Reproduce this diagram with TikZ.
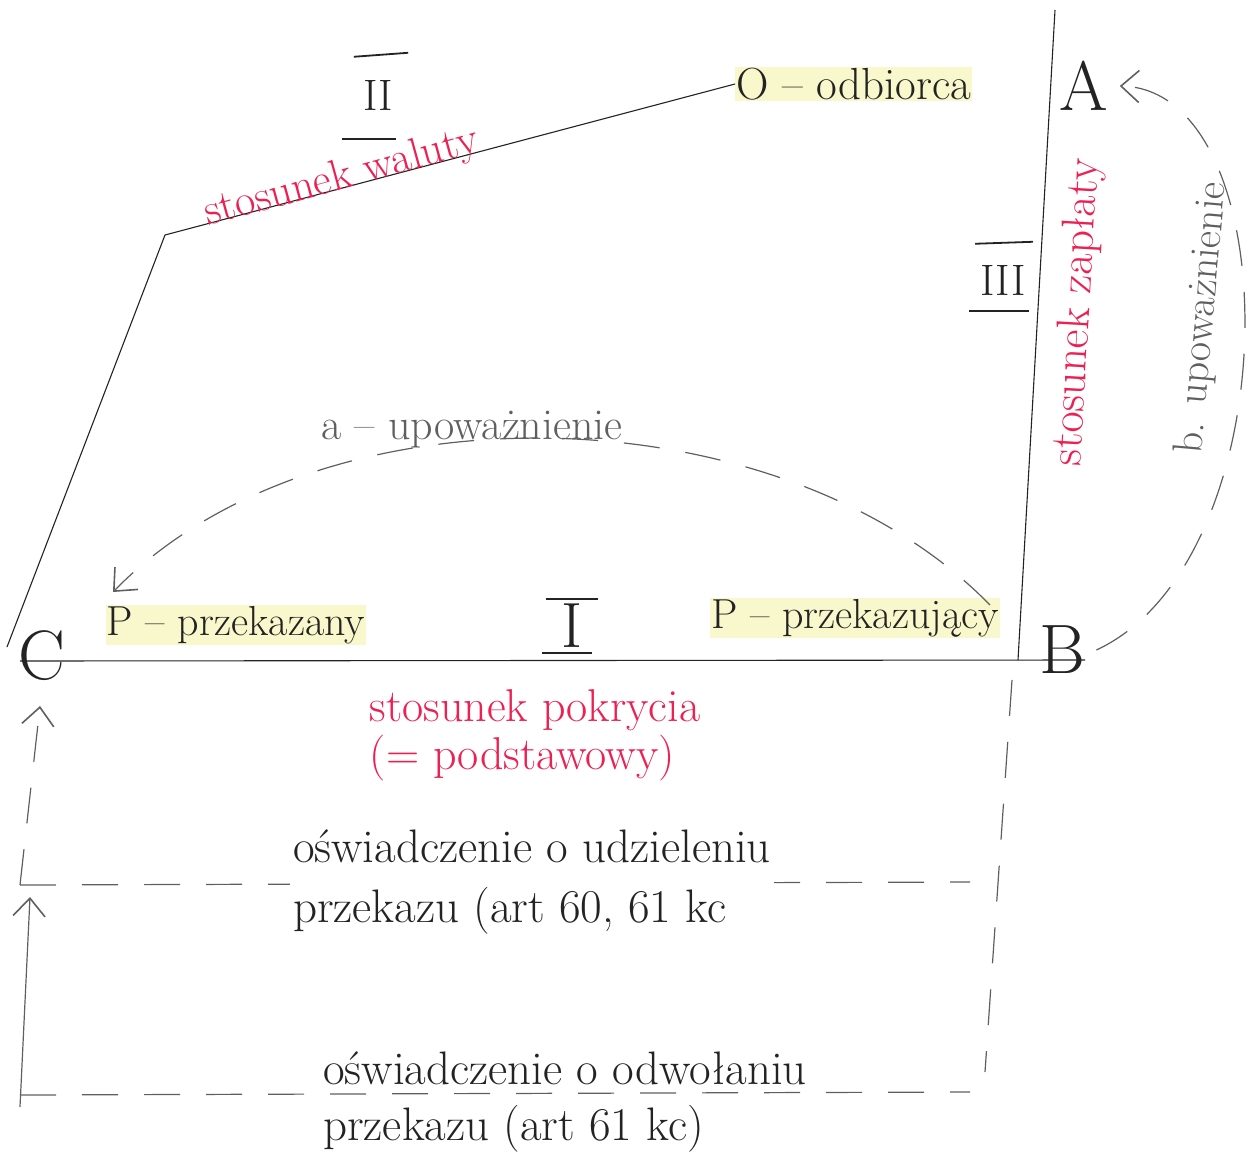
\documentclass[tikz,border=0pt]{standalone}
\usepackage{fontspec}
\usetikzlibrary{arrows.meta}
\definecolor{pen}{RGB}{35,35,35}
\definecolor{redpen}{RGB}{236,32,82}
\definecolor{pencil}{RGB}{95,95,95}
\definecolor{marker}{RGB}{249,248,205}

\begin{document}
\begin{tikzpicture}[x=1pt,y=-1pt,
	hand/.style={font=\fontsize{42}{58}\selectfont, text=pen},
	grayhand/.style={hand, text=pencil},
	redhand/.style={font=\fontsize{46}{48}\selectfont, text=redpen, align=left},
	marked/.style={hand, fill=marker, inner sep=1pt},
	letter/.style={font=\fontsize{70}{72}\selectfont, text=pen},
	numeral/.style={font=\fontsize{44}{46}\selectfont, text=pen, inner sep=1pt},
	bar/.style={pen, line width=1.8pt},
	edge/.style={pen, line width=1.1pt},
	pencil line/.style={pencil, line width=1.2pt},
	pencil dash/.style={pencil line, dash pattern=on 36pt off 26pt},
	>={Straight Barb[length=18pt,width=32pt,line width=1.6pt]}]
	\useasboundingbox (0,0) rectangle (1255,1162);
	
	% corners of the figure
	\coordinate (k1) at (7,647);
	\coordinate (k2) at (165,235);
	\coordinate (top) at (1055,10);
	\coordinate (foot) at (1018,660);
	\coordinate (b1) at (20,661);
	\coordinate (b2) at (1085,660);
	
	\node[letter] (C) at (42,656) {C};
	\node[letter] (B) at (1062,650) {B};
	\node[letter] (A) at (1084,86) {A};
	\node[marked,anchor=west,font=\fontsize{45}{48}\selectfont] (O) at (735,84) {O -- odbiorca};
	\node[marked] (Pp) at (236,625) {P -- przekazany};
	\node[marked] (Pz) at (855,618) {P -- przekazujący};
	
	\draw[edge] (k1) -- (k2) -- (O.west);
	\draw[edge] (top) -- (foot);
	\draw[edge] (b1) -- (b2);
	
	% numerals
	\node[numeral,font=\fontsize{64}{66}\selectfont] (nI) at (572,626) {I};
	\draw[bar] ([xshift=-14pt,yshift=4pt]nI.north west) -- ([xshift=14pt,yshift=4pt]nI.north east);
	\draw[bar] ([xshift=-18pt,yshift=-4pt]nI.south west) -- ([xshift=8pt,yshift=-4pt]nI.south east);
	\node[numeral] (nII) at (378,95) {II};
	\draw[bar] ([xshift=-8pt,yshift=22pt]nII.north west) -- ([xshift=14pt,yshift=26pt]nII.north east);
	\draw[bar] ([xshift=-20pt,yshift=-28pt]nII.south west) -- ([xshift=2pt,yshift=-28pt]nII.south east);
	\node[numeral] (nIII) at (1003,280) {III};
	\draw[bar] ([xshift=-4pt,yshift=20pt]nIII.north west) -- ([xshift=6pt,yshift=22pt]nIII.north east);
	\draw[bar] ([xshift=-10pt,yshift=-15pt]nIII.south west) -- ([xshift=2pt,yshift=-15pt]nIII.south east);
	
	% relations
	\node[redhand,rotate=15.4,font=\fontsize{44}{46}\selectfont] (wal) at (342,178) {stosunek waluty};
	\node[redhand,rotate=86.7] (zap) at (1078,312) {stosunek zapłaty};
	\node[redhand] (pok) at (535,735) {stosunek pokrycia\\(= podstawowy)};
	
	% authorisations
	\coordinate (a1) at (990,605);
	\coordinate (a2) at (113,592);
	\draw[pencil dash,->] (a1) .. controls (780,390) and (320,380) .. (a2);
	\node[grayhand,font=\fontsize{44}{46}\selectfont] (ua) at (472,430) {a -- upoważnienie};
	\draw[pencil dash,->] ([xshift=8pt]B.east) .. controls (1290,560) and (1290,90) .. ([xshift=8pt]A.east);
	\node[grayhand,rotate=85] (ub) at (1203,318) {b. upoważnienie};
	
	% declarations
	\coordinate (r1) at (1012,680);
	\coordinate (r2) at (985,1072);
	\coordinate (m1) at (20,885);
	\coordinate (m2) at (970,882);
	\coordinate (n1) at (20,1095);
	\coordinate (n2) at (970,1092);
	\coordinate (cu) at (40,706);
	\coordinate (mu) at (30,897);
	\draw[pencil dash] (r1) -- (r2);
	\draw[pencil dash] (m1) -- (m2);
	\draw[pencil dash] (n1) -- (n2);
	\draw[pencil dash,->] (m1) -- (cu);
	\draw[pencil line,->] ([yshift=-12pt]n1) -- (mu);
	\node[hand,align=left,fill=white,font=\fontsize{47}{60}\selectfont] (os1) at (532,882) {oświadczenie o udzieleniu\\przekazu (art 60, 61 kc};
	\node[hand,align=left,font=\fontsize{47}{56}\selectfont] (os2) at (565,1102) {oświadczenie o odwołaniu\\przekazu (art 61 kc)};
\end{tikzpicture}
\end{document}
